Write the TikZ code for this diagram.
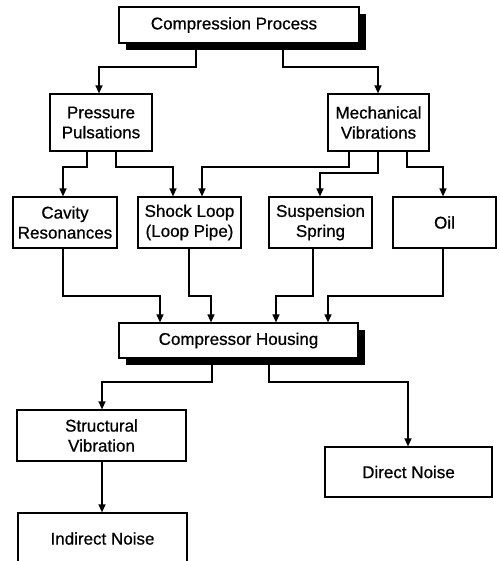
\documentclass[tikz,border=0pt]{standalone}
\usepackage{fontspec}
\setmainfont{Liberation Sans}[FakeBold=0.7]
\usetikzlibrary{arrows.meta,shadows}
\begin{document}
\begin{tikzpicture}[x=1pt,y=-1pt,
  box/.style={draw, line width=1.2pt, fill=white, align=center, inner sep=0pt,
    font=\fontsize{17}{20}\selectfont},
  shbox/.style={box, drop shadow={shadow xshift=7pt, shadow yshift=-7pt, fill=black, opacity=1}},
  conn/.style={line width=1.3pt, -{Triangle[length=8pt,width=7pt]}}]
\useasboundingbox (0,0) rectangle (499,561);
\node[shbox, minimum width=240pt, minimum height=36pt] (comp) at (239,25) {\hspace*{-10pt}Compression Process};
\node[box, minimum width=102pt, minimum height=57pt] (press) at (101,122.5) {Pressure\\Pulsations};
\node[box, minimum width=101pt, minimum height=57pt] (mech) at (378.5,122.5) {Mechanical\\Vibrations};
\node[box, minimum width=104pt, minimum height=51pt] (cav) at (65,222.5) {Cavity\\Resonances};
\node[box, minimum width=103pt, minimum height=51pt] (shock) at (189.5,222.5) {Shock Loop\\(Loop Pipe)};
\node[box, minimum width=103pt, minimum height=51pt] (susp) at (320.5,222.5) {Suspension\\Spring};
\node[box, minimum width=103pt, minimum height=51pt] (oil) at (444.5,222.5) {Oil};
\node[shbox, minimum width=239pt, minimum height=35pt] (hous) at (238.5,340.5) {Compressor Housing};
\node[box, minimum width=169pt, minimum height=51pt] (struct) at (101.5,435.5) {Structural\\Vibration};
\node[box, minimum width=167pt, minimum height=50pt] (direct) at (408.5,472) {Direct Noise};
\node[box, minimum width=169pt, minimum height=51pt] (indirect) at (102.5,538.5) {Indirect Noise};
\foreach \a/\b/\x/\y/\z in {comp/press/196/67/99, comp/mech/283/67/378,
  press/cav/87/167/63, press/shock/116/167/173, mech/shock/349/167/202,
  mech/susp/378/173/320, mech/oil/407/167/443,
  cav/hous/63/296/160, shock/hous/189/296/211, susp/hous/313/296/276, oil/hous/443/296/328,
  hous/struct/212/382/102, hous/direct/269/382/408, struct/indirect/102/487/102}
  \draw[conn] (\a.south -| \x,0) |- (\z,\y) -- (\b.north -| \z,0);
\end{tikzpicture}
\end{document}
